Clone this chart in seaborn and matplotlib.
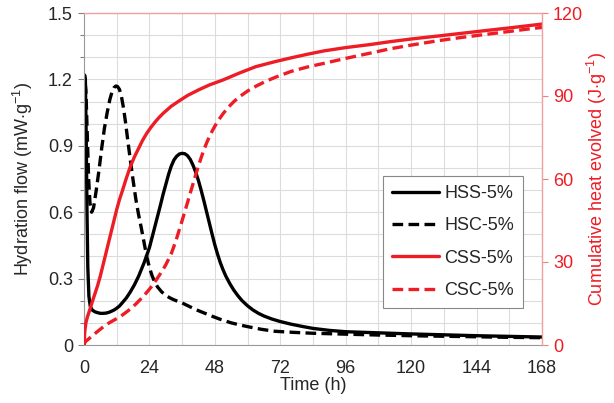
import numpy as np
import pandas as pd
import matplotlib
matplotlib.use("Agg")
import matplotlib.pyplot as plt
import seaborn as sns
from matplotlib.ticker import MultipleLocator
from matplotlib.lines import Line2D

# ---- data ----
hss_t = [0, 0.2, 0.5, 0.8, 1.1, 1.4, 1.8, 2.3, 3, 4, 5, 6, 7, 8, 9, 10, 11, 12, 13, 14, 15.5, 17, 18.5,
         20, 22, 24, 26, 28, 29, 30, 31, 32, 33, 34, 35, 36, 37, 38, 39, 40, 41, 42, 43, 44, 45, 46, 47,
         48, 49, 50, 51, 52, 53.5, 55, 56.5, 58, 60, 62, 64, 66, 69, 72, 76, 80, 84, 90, 96, 108, 120,
         132, 144, 156, 168]
hss_v = [1.05, 1.22, 1.20, 0.95, 0.60, 0.35, 0.22, 0.175, 0.158, 0.150, 0.146, 0.143, 0.143, 0.144, 0.147,
         0.152, 0.158, 0.166, 0.176, 0.19, 0.212, 0.24, 0.272, 0.31, 0.37, 0.44, 0.535, 0.63, 0.68, 0.725,
         0.77, 0.808, 0.836, 0.853, 0.863, 0.866, 0.864, 0.855, 0.838, 0.812, 0.78, 0.742, 0.698, 0.65,
         0.6, 0.55, 0.5, 0.452, 0.41, 0.372, 0.34, 0.312, 0.277, 0.247, 0.222, 0.2, 0.177, 0.158, 0.143,
         0.131, 0.117, 0.106, 0.094, 0.084, 0.075, 0.066, 0.060, 0.055, 0.050, 0.046, 0.042, 0.039, 0.036]

hsc_t = [0, 0.3, 0.7, 1.2, 1.7, 2.2, 2.8, 3.5, 4.5, 5.5, 6.5, 7.5, 8.5, 9.5, 10.3, 11, 11.7, 12.3, 13,
         13.7, 14.5, 15.3, 16, 17, 18, 19, 20, 21, 22, 23, 24, 25, 26, 27, 28.5, 30, 31.5, 33, 36, 38.5,
         41, 44, 47, 50, 54, 57, 60, 65, 70, 77, 84, 96, 108, 124, 140, 154, 168]
hsc_v = [1.0, 1.2, 1.15, 0.95, 0.75, 0.64, 0.60, 0.62, 0.70, 0.79, 0.89, 0.98, 1.05, 1.11, 1.145, 1.163,
         1.17, 1.168, 1.155, 1.125, 1.07, 1.0, 0.93, 0.835, 0.745, 0.66, 0.59, 0.53, 0.465, 0.40, 0.35,
         0.312, 0.283, 0.262, 0.24, 0.224, 0.213, 0.204, 0.19, 0.175, 0.16, 0.145, 0.13, 0.116, 0.10,
         0.091, 0.083, 0.071, 0.062, 0.057, 0.053, 0.049, 0.045, 0.041, 0.038, 0.035, 0.033]

css_t = [0, 0.3, 0.7, 1.2, 2.2, 3, 4, 5, 6, 7, 8, 9, 10, 11, 12, 13, 14, 15.5, 17, 18.5, 20, 21.5, 23,
         24.5, 26, 27.5, 29, 32, 35, 38, 42, 46, 51, 57, 63, 70, 76, 82, 88, 96, 105, 112, 120, 130, 138,
         146, 155, 162, 168]
css_v = [0, 5, 8, 10, 13, 15.5, 18.5, 21.5, 25, 29, 33, 37, 41, 45, 49, 52.5, 55.5, 60.2, 64.5, 68, 71,
         74, 76.5, 78.6, 80.5, 82.2, 83.7, 86.3, 88.3, 90.2, 92.2, 94.0, 95.8, 98.3, 100.6, 102.4, 103.8,
         105.1, 106.3, 107.5, 108.6, 109.6, 110.6, 111.7, 112.6, 113.5, 114.5, 115.3, 116]

csc_t = [0, 0.5, 2.2, 4.6, 8, 11, 13.2, 15, 17, 19, 20.5, 22, 23, 24.5, 26, 27.5, 29, 30, 31, 32, 33,
         34, 35, 36, 37, 38, 39, 40, 41, 42, 43, 44, 45, 46, 47, 48, 49.5, 51, 53, 55, 57, 60, 63, 66,
         70, 76, 82, 88, 96, 105, 112, 120, 130, 138, 146, 155, 162, 168]
csc_v = [0, 1.2, 2.6, 4.6, 7.3, 9, 10.2, 11.5, 13, 14.8, 16.3, 17.8, 19, 20.8, 22.8, 25, 27.3, 29, 31,
         33, 35.7, 38.6, 41.8, 45, 48.3, 51.6, 55, 58.3, 61.6, 64.8, 67.8, 70.6, 73.1, 75.3, 77.3, 79.1,
         81.5, 83.6, 86, 88, 89.7, 91.8, 93.5, 95, 96.7, 98.9, 100.5, 101.8, 103.6, 105.5, 107, 108.4,
         110, 111.1, 112.1, 113.2, 114.1, 114.8]

x_ticks = [0, 24, 48, 72, 96, 120, 144, 168]
left_ticks = [0, 0.3, 0.6, 0.9, 1.2, 1.5]
left_labels = ["0", "0.3", "0.6", "0.9", "1.2", "1.5"]
right_ticks = [0, 30, 60, 90, 120]
series_labels = ["HSS-5%", "HSC-5%", "CSS-5%", "CSC-5%"]

RED = "#ee1c25"
sns.set_style("white")
plt.rcParams["font.family"] = ["Liberation Sans", "DejaVu Sans"]
plt.rcParams["mathtext.fontset"] = "custom"
plt.rcParams["mathtext.rm"] = "Liberation Sans"
plt.rcParams["mathtext.it"] = "Liberation Sans:italic"

fig = plt.figure(figsize=(6.14, 4.03), dpi=100)
ax = fig.add_axes([84/614, 1-345/403, (542-84)/614, (345-13)/403])
ax2 = ax.twinx()

df_hss = pd.DataFrame({"t": hss_t, "v": hss_v})
df_hsc = pd.DataFrame({"t": hsc_t, "v": hsc_v})
df_css = pd.DataFrame({"t": css_t, "v": css_v})
df_csc = pd.DataFrame({"t": csc_t, "v": csc_v})

LW = 2.4
dash = (3.2, 1.6)
sns.lineplot(data=df_hss, x="t", y="v", ax=ax, color="black", lw=LW, sort=False, estimator=None)
sns.lineplot(data=df_hsc, x="t", y="v", ax=ax, color="black", lw=LW, sort=False, estimator=None)
ax.lines[1].set_dashes(dash)
sns.lineplot(data=df_css, x="t", y="v", ax=ax2, color=RED, lw=LW, sort=False, estimator=None)
sns.lineplot(data=df_csc, x="t", y="v", ax=ax2, color=RED, lw=LW, sort=False, estimator=None)
ax2.lines[1].set_dashes(dash)
for ln in ax.lines + ax2.lines:
    ln.set_solid_joinstyle("round")
    ln.set_dash_joinstyle("round")

ax.set_xlim(0, 168)
ax.set_ylim(0, 1.5)
ax2.set_ylim(0, 120)
ax.set_xticks(x_ticks)
ax.xaxis.set_minor_locator(MultipleLocator(12))
ax.set_yticks(left_ticks)
ax.set_yticklabels(left_labels)
ax.yaxis.set_minor_locator(MultipleLocator(0.1))
ax2.set_yticks(right_ticks)

ax.grid(True, which="both", color="#dcdcdc", lw=0.8)
ax.set_axisbelow(True)

fs = 13
ax.tick_params(axis="both", which="major", labelsize=fs, direction="out", length=4, width=0.8,
               color="#808080")
ax.tick_params(axis="x", which="major", pad=7)
ax.tick_params(axis="y", which="major", pad=4)
ax.tick_params(axis="both", which="minor", direction="out", length=3, width=0.8, color="#808080")
ax2.tick_params(axis="y", which="major", labelsize=fs, direction="out", length=4, width=0.8,
                color="#f08080", labelcolor=RED, pad=4)

ax.set_xlabel("Time (h)", fontsize=fs, labelpad=0)
ax.set_ylabel(r"Hydration flow (mW$\cdot$g$^{-1}$)", fontsize=fs, labelpad=9)
ax2.set_ylabel(r"Cumulative heat evolved (J$\cdot$g$^{-1}$)", fontsize=fs, color=RED, labelpad=1)

for s in ["left", "bottom"]:
    ax.spines[s].set_color("#999999")
    ax.spines[s].set_linewidth(0.8)
ax.spines["top"].set_visible(False)
ax.spines["right"].set_visible(False)
ax2.spines["left"].set_visible(False)
ax2.spines["bottom"].set_visible(False)
ax2.spines["top"].set_color("#f0a0a0")
ax2.spines["right"].set_color("#f0a0a0")
ax2.spines["top"].set_linewidth(1.0)
ax2.spines["right"].set_linewidth(1.0)
ax2.set_xlabel("")

handles = [
    Line2D([], [], color="black", lw=LW),
    Line2D([], [], color="black", lw=LW, dashes=dash),
    Line2D([], [], color=RED, lw=LW),
    Line2D([], [], color=RED, lw=LW, dashes=dash),
]
leg = ax2.legend(handles, series_labels, loc="upper right", bbox_to_anchor=(523/614, 1-176/403),
                 bbox_transform=fig.transFigure, borderaxespad=0, fontsize=fs,
                 frameon=True, fancybox=False, edgecolor="#888888", framealpha=1,
                 handlelength=2.6, handletextpad=0.3, labelspacing=0.85, borderpad=0.5)
leg.get_frame().set_linewidth(0.8)

fig.savefig("out.png", dpi=100)
